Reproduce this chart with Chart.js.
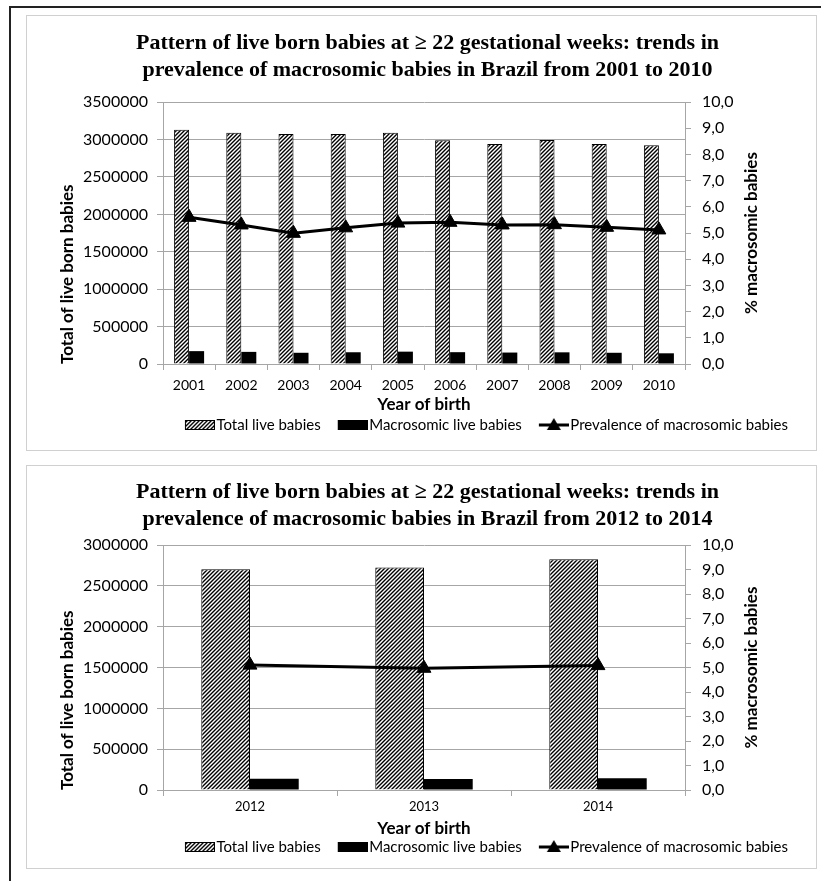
<!DOCTYPE html>
<html>
<head>
<meta charset="utf-8">
<script src="https://cdn.jsdelivr.net/npm/chart.js@4.4.0/dist/chart.umd.min.js"></script>
<style>
  body { margin: 0; background: #fff; overflow: hidden; width: 821px; height: 881px; position: relative; }
  #frame { position: absolute; left: 9px; top: 6px; width: 900px; height: 900px; border-left: 2px solid #222; border-top: 2px solid #222; }
  .panel { position: absolute; left: 26px; width: 791px; border: 1px solid #d0d0d0; box-sizing: border-box; background: #fff; }
  canvas { display: block; }
</style>
</head>
<body>
<div id="frame"></div>
<div class="panel" style="top:15px;height:436px"><canvas id="chart1" width="789" height="434"></canvas></div>
<div class="panel" style="top:465px;height:404px"><canvas id="chart2" width="789" height="402"></canvas></div>
<script>
// ---------------------------------------- | Data

const years1 = ["2001", "2002", "2003", "2004", "2005", "2006", "2007", "2008", "2009", "2010"]
const totalLive1 = [3130000, 3090000, 3075000, 3075000, 3090000, 2990000, 2940000, 2995000, 2940000, 2925000]
const macrosomic1 = [172000, 162000, 150000, 157000, 165000, 158000, 153000, 156000, 150000, 143000]
const prevalence1 = [5.6, 5.31, 4.99, 5.2, 5.38, 5.41, 5.31, 5.32, 5.22, 5.12]

const years2 = ["2012", "2013", "2014"]
const totalLive2 = [2705000, 2726000, 2828000]
const macrosomic2 = [138000, 135000, 144000]
const prevalence2 = [5.1, 4.97, 5.08]

const title1 = ["Pattern of live born babies at \u2265 22 gestational weeks: trends in", "prevalence of macrosomic babies in Brazil from 2001 to 2010"]
const title2 = ["Pattern of live born babies at \u2265 22 gestational weeks: trends in", "prevalence of macrosomic babies in Brazil from 2012 to 2014"]
const seriesNames = ["Total live babies", "Macrosomic live babies", "Prevalence of macrosomic babies"]

Chart.defaults.font.family = "Lato"
Chart.defaults.color = "#000"

const GRID = "#a6a6a6"

// ---------------------------------------- | Helpers

function hatchPattern() {
  const c = document.createElement("canvas")
  c.width = c.height = 4
  const g = c.getContext("2d")
  g.fillStyle = "#fff"
  g.fillRect(0, 0, 4, 4)
  g.strokeStyle = "#000"
  g.lineWidth = 1.4
  g.beginPath()
  g.moveTo(0, 4); g.lineTo(4, 0)
  g.moveTo(-1, 1); g.lineTo(1, -1)
  g.moveTo(3, 5); g.lineTo(5, 3)
  g.stroke()
  return g.createPattern(c, "repeat")
}

const hatch = hatchPattern()

// legend symbol: transparent on the left, symbol in the right 30px
function legendSymbol(kind) {
  const c = document.createElement("canvas")
  c.width = 49
  c.height = 14
  const g = c.getContext("2d")
  if (kind === "hatch") {
    g.fillStyle = hatch
    g.fillRect(19, 2, 30, 10)
    g.strokeStyle = "#000"
    g.lineWidth = 1
    g.strokeRect(19.5, 2.5, 29, 9)
  } else if (kind === "black") {
    g.fillStyle = "#000"
    g.fillRect(19, 2, 30, 10)
  } else {
    g.strokeStyle = "#000"
    g.lineWidth = 3
    g.beginPath(); g.moveTo(19, 7); g.lineTo(49, 7); g.stroke()
    g.fillStyle = "#000"
    g.beginPath(); g.moveTo(34, 0); g.lineTo(41, 12); g.lineTo(27, 12); g.closePath(); g.fill()
  }
  return c
}

const symbols = [legendSymbol("hatch"), legendSymbol("black"), legendSymbol("line")]

const rightTitle = {
  id: "rightTitle",
  afterDraw(chart, args, opts) {
    const { ctx, chartArea } = chart
    ctx.save()
    ctx.translate(opts.x, (chartArea.top + chartArea.bottom) / 2)
    ctx.rotate(-Math.PI / 2)
    ctx.font = "bold 17px Lato"
    ctx.fillStyle = "#000"
    ctx.textAlign = "center"
    ctx.textBaseline = "middle"
    ctx.fillText(opts.text, 0, 0)
    ctx.restore()
  }
}

function makeChart(id, cfg) {
  return new Chart(document.getElementById(id), {
    type: "bar",
    plugins: [rightTitle],
    data: {
      labels: cfg.labels,
      datasets: [
        {
          label: seriesNames[0],
          data: cfg.total,
          backgroundColor: hatch,
          borderColor: "#000",
          borderWidth: 1,
          yAxisID: "y",
          barPercentage: 1,
          categoryPercentage: cfg.catPct,
          order: 1
        },
        {
          label: seriesNames[1],
          data: cfg.macro,
          backgroundColor: "#000",
          borderWidth: 0,
          yAxisID: "y",
          barPercentage: 1,
          categoryPercentage: cfg.catPct,
          order: 1
        },
        {
          type: "line",
          label: seriesNames[2],
          data: cfg.prev,
          borderColor: "#000",
          backgroundColor: "#000",
          borderWidth: 3,
          pointStyle: "triangle",
          pointRadius: 8,
          pointBorderWidth: 1,
          yAxisID: "y1",
          order: 0
        }
      ]
    },
    options: {
      responsive: false,
      animation: false,
      layout: { padding: { left: 36, right: 24, top: 0, bottom: cfg.padBottom } },
      plugins: {
        title: {
          display: true,
          text: cfg.title,
          font: { family: "Liberation Serif", size: 22, weight: "bold", lineHeight: 1.23 },
          color: "#000",
          padding: { top: cfg.titleTop, bottom: cfg.titleBottom }
        },
        legend: {
          position: "bottom",
          align: "end",
          labels: {
            usePointStyle: true,
            pointStyleWidth: 37,
            padding: 4,
            font: { size: 15 },
            color: "#000",
            generateLabels: chart => chart.data.datasets.map((ds, i) => ({
              text: ds.label,
              pointStyle: symbols[i],
              fillStyle: "#000",
              strokeStyle: "#000",
              lineWidth: 0,
              hidden: false,
              datasetIndex: i
            }))
          }
        },
        tooltip: { enabled: false },
        rightTitle: { x: 725, text: "% macrosomic babies" }
      },
      scales: {
        x: {
          afterFit: s => { s.height = cfg.xHeight },
          grid: { drawOnChartArea: false, tickLength: 6, color: GRID },
          border: { color: GRID },
          ticks: { font: { size: cfg.xFont }, padding: cfg.xPad },
          title: {
            display: true,
            text: "Year of birth",
            font: { size: 17, weight: "bold", lineHeight: 1.2 },
            padding: { top: 0, bottom: cfg.xTitleBottom }
          }
        },
        y: {
          position: "left",
          min: 0,
          max: cfg.yMax,
          afterFit: s => { s.width = 100 },
          grid: { color: GRID, tickLength: 6 },
          border: { color: GRID },
          ticks: { stepSize: 500000, font: { size: 16 }, padding: 9, callback: v => String(v) },
          title: {
            display: true,
            text: "Total of live born babies",
            align: "start",
            font: { size: 17, weight: "bold", lineHeight: 1.2 },
            padding: { top: -6, bottom: 0 }
          }
        },
        y1: {
          position: "right",
          min: 0,
          max: 10,
          afterFit: s => { s.width = 107 },
          grid: { drawOnChartArea: false, color: GRID, tickLength: 6 },
          border: { color: GRID },
          ticks: { stepSize: 1, font: { size: 16 }, padding: 11, callback: v => v.toFixed(1).replace(".", ",") }
        }
      }
    }
  })
}

// ---------------------------------------- | 2001 to 2010

const chart1 = makeChart("chart1", {
  labels: years1,
  total: totalLive1,
  macro: macrosomic1,
  prev: prevalence1,
  title: title1,
  catPct: 0.575,
  yMax: 3500000,
  titleTop: 13.5,
  titleBottom: 18.5,
  padBottom: 7.5,
  xHeight: 49.5,
  xFont: 14,
  xPad: 6.6,
  xTitleBottom: -1.7
})

// ---------------------------------------- | 2012 to 2014

const chart2 = makeChart("chart2", {
  labels: years2,
  total: totalLive2,
  macro: macrosomic2,
  prev: prevalence2,
  title: title2,
  catPct: 0.56,
  yMax: 3000000,
  titleTop: 12.5,
  titleBottom: 12.5,
  padBottom: 3.5,
  xHeight: 45.5,
  xFont: 13,
  xPad: 3.2,
  xTitleBottom: -3.7
})
</script>
</body>
</html>
